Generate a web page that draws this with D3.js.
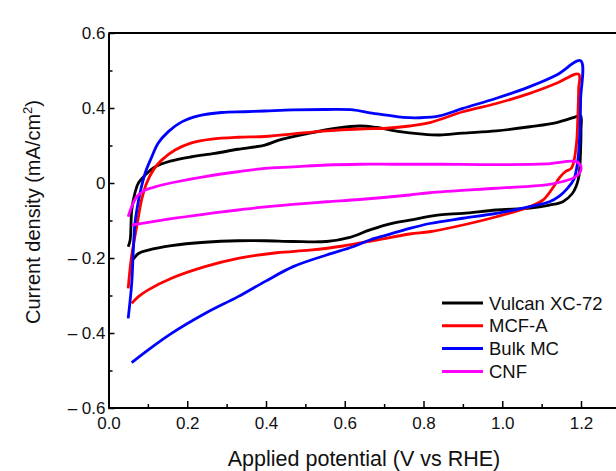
<!DOCTYPE html>
<html>
<head>
<meta charset="utf-8">
<script src="https://cdn.jsdelivr.net/npm/d3@7"></script>
<style>
  body { margin: 0; background: #fff; }
  svg { display: block; font-family: "Liberation Sans", Arial, sans-serif; }
</style>
</head>
<body>
<div id="chart"></div>
<script>
// --- data (potential V, current density) ---
const seriesNames = ['Vulcan XC-72', 'MCF-A', 'Bulk MC', 'CNF'];
const seriesColors = ['#000000', '#ff0000', '#0000ff', '#ff00ff'];

const vulcan = [
  [0.05,-0.17],[0.055,-0.152],[0.059,-0.072],[0.067,-0.027],[0.076,0],[0.093,0.021],[0.118,0.043],
  [0.16,0.059],[0.211,0.07],[0.27,0.079],[0.329,0.09],[0.397,0.101],[0.435,0.115],[0.511,0.133],
  [0.579,0.146],[0.638,0.152],[0.681,0.148],[0.74,0.137],[0.791,0.131],[0.841,0.128],[0.9,0.133],
  [0.985,0.139],[1.07,0.15],[1.138,0.161],[1.188,0.177],[1.199,0.18],
  [1.2,0.14],[1.199,0.088],[1.195,0.02],[1.188,-0.008],[1.178,-0.028],[1.154,-0.05],[1.12,-0.059],
  [1.07,-0.067],[0.985,-0.072],[0.9,-0.081],[0.841,-0.085],[0.765,-0.099],[0.723,-0.107],
  [0.664,-0.125],[0.613,-0.145],[0.554,-0.156],[0.469,-0.156],[0.397,-0.154],[0.329,-0.154],
  [0.245,-0.158],[0.16,-0.167],[0.101,-0.179],[0.076,-0.188],[0.063,-0.203]
];
const mcfA = [
  [0.05,-0.281],[0.058,-0.2],[0.067,-0.143],[0.076,-0.09],[0.084,-0.045],[0.097,0],[0.114,0.035],
  [0.135,0.061],[0.169,0.088],[0.211,0.107],[0.262,0.117],[0.329,0.122],[0.397,0.124],[0.469,0.131],
  [0.554,0.139],[0.638,0.144],[0.706,0.146],[0.765,0.152],[0.816,0.161],[0.9,0.19],[0.985,0.212],
  [1.07,0.239],[1.138,0.266],[1.194,0.29],
  [1.194,0.25],[1.192,0.177],[1.188,0.1],[1.176,0.04],[1.16,0.03],[1.146,0.015],
  [1.129,-0.012],[1.104,-0.045],[1.07,-0.063],[0.985,-0.09],[0.9,-0.112],[0.816,-0.13],
  [0.765,-0.136],[0.681,-0.152],[0.596,-0.168],[0.511,-0.179],[0.427,-0.186],[0.329,-0.201],
  [0.245,-0.223],[0.16,-0.254],[0.101,-0.285],[0.076,-0.303],[0.059,-0.321]
];
const bulkMC = [
  [0.05,-0.361],[0.059,-0.267],[0.063,-0.179],[0.067,-0.11],[0.072,-0.072],[0.08,-0.027],
  [0.093,0.026],[0.11,0.07],[0.126,0.106],[0.152,0.137],[0.186,0.163],[0.228,0.179],[0.287,0.188],
  [0.346,0.19],[0.397,0.192],[0.469,0.195],[0.554,0.196],[0.621,0.195],[0.664,0.187],[0.706,0.181],
  [0.748,0.175],[0.791,0.174],[0.841,0.179],[0.9,0.199],[0.985,0.226],[1.07,0.257],[1.138,0.288],
  [1.199,0.326],
  [1.199,0.221],[1.197,0.133],[1.192,0.061],[1.182,0.01],[1.165,-0.015],[1.145,-0.035],[1.12,-0.05],
  [1.07,-0.063],[0.985,-0.081],[0.9,-0.094],[0.816,-0.108],[0.765,-0.121],[0.706,-0.139],
  [0.664,-0.152],[0.621,-0.17],[0.554,-0.192],[0.469,-0.223],[0.397,-0.263],[0.329,-0.303],
  [0.245,-0.348],[0.16,-0.401],[0.101,-0.445],[0.059,-0.479]
];
const cnf = [
  [0.05,-0.09],[0.059,-0.063],[0.072,-0.036],[0.093,-0.019],[0.126,-0.008],[0.177,0.004],
  [0.245,0.017],[0.329,0.03],[0.397,0.039],[0.469,0.043],[0.554,0.048],[0.638,0.05],[0.723,0.05],
  [0.841,0.05],[0.985,0.049],[1.112,0.051],[1.188,0.057],[1.2,0.043],[1.196,0.026],[1.18,0.013],
  [1.154,0.004],[1.112,-0.005],[0.985,-0.014],[0.816,-0.026],[0.765,-0.032],[0.638,-0.044],
  [0.554,-0.05],[0.469,-0.057],[0.385,-0.065],[0.329,-0.072],[0.245,-0.083],[0.16,-0.095],
  [0.101,-0.105],[0.059,-0.112]
];
const seriesData = [vulcan, mcfA, bulkMC, cnf];

// axis ticks as printed on the figure
const xTicks = [0, 0.2, 0.4, 0.6, 0.8, 1.0, 1.2];
const xTickLabels = ['0.0', '0.2', '0.4', '0.6', '0.8', '1.0', '1.2'];
const xMinor = [0.1, 0.3, 0.5, 0.7, 0.9, 1.1];
const yTicks = [-0.6, -0.4, -0.2, 0, 0.2, 0.4];
const yTickLabels = ['\u2013 0.6', '\u2013 0.4', '\u2013 0.2', '0', '0.4', '0.6'];
const yMinor = [-0.5, -0.3, -0.1, 0.1, 0.3];

const W = 616, H = 471;
const svg = d3.select('#chart').append('svg').attr('width', W).attr('height', H);

const x = d3.scaleLinear().domain([0, 1.2]).range([108.5, 581]);
const y = d3.scaleLinear().domain([-0.6, 0.4]).range([408, 33]);
const xEnd = W; // frame runs off the right edge

// frame top line
svg.append('line')
  .attr('x1', x(0)).attr('x2', xEnd).attr('y1', y(0.4)).attr('y2', y(0.4))
  .attr('stroke', '#000').attr('stroke-width', 2);

// x axis
const gx = svg.append('g').attr('transform', `translate(0,${y(-0.6)})`);
gx.call(d3.axisBottom(x).tickValues(xTicks).tickSizeInner(-7).tickSizeOuter(0).tickPadding(9)
  .tickFormat((d, i) => xTickLabels[i]));
gx.append('g').call(d3.axisBottom(x).tickValues(xMinor).tickSizeInner(-4).tickSizeOuter(0).tickFormat(''))
  .select('.domain').remove();
gx.select('.domain').attr('d', `M${x(0)},0H${xEnd}`);

// y axis
const gy = svg.append('g').attr('transform', `translate(${x(0)},0)`);
gy.call(d3.axisLeft(y).tickValues(yTicks).tickSizeInner(-6).tickSizeOuter(0).tickPadding(3)
  .tickFormat((d, i) => yTickLabels[i]));
gy.append('g').call(d3.axisLeft(y).tickValues(yMinor).tickSizeInner(-4).tickSizeOuter(0).tickFormat(''))
  .select('.domain').remove();

svg.selectAll('.domain').attr('stroke', '#000').attr('stroke-width', 2);
svg.selectAll('.tick line').attr('stroke', '#000').attr('stroke-width', 1.5);
svg.selectAll('.tick text').attr('font-size', 17).attr('fill', '#111')
  .attr('font-family', '"Liberation Sans", Arial, sans-serif');

// curves
const line = d3.line()
  .x(d => x(d[0]))
  .y(d => y(d[1]))
  .curve(d3.curveCatmullRom.alpha(0.5));

svg.append('g').selectAll('path')
  .data(seriesData)
  .join('path')
  .attr('fill', 'none')
  .attr('stroke', (d, i) => seriesColors[i])
  .attr('stroke-width', 2.8)
  .attr('stroke-linejoin', 'round')
  .attr('d', line);

// legend
const legend = svg.append('g');
seriesNames.forEach((name, i) => {
  const ly = 303 + i * 22.8;
  legend.append('line')
    .attr('x1', 442).attr('x2', 483).attr('y1', ly).attr('y2', ly)
    .attr('stroke', seriesColors[i]).attr('stroke-width', 3);
  legend.append('text')
    .attr('x', 489).attr('y', ly).attr('dy', '0.36em')
    .attr('font-size', 18.5).attr('fill', '#111')
    .text(name);
});

// axis titles
svg.append('text')
  .attr('x', 364).attr('y', 466)
  .attr('text-anchor', 'middle')
  .attr('font-size', 21.5).attr('fill', '#111')
  .text('Applied potential (V vs RHE)');

const yt = svg.append('text')
  .attr('transform', 'translate(40,212) rotate(-90)')
  .attr('text-anchor', 'middle')
  .attr('font-size', 20).attr('fill', '#111');
yt.append('tspan').text('Current density (mA/cm');
yt.append('tspan').attr('font-size', 13).attr('dy', -8).text('2');
yt.append('tspan').attr('dy', 8).text(')');
</script>
</body>
</html>
